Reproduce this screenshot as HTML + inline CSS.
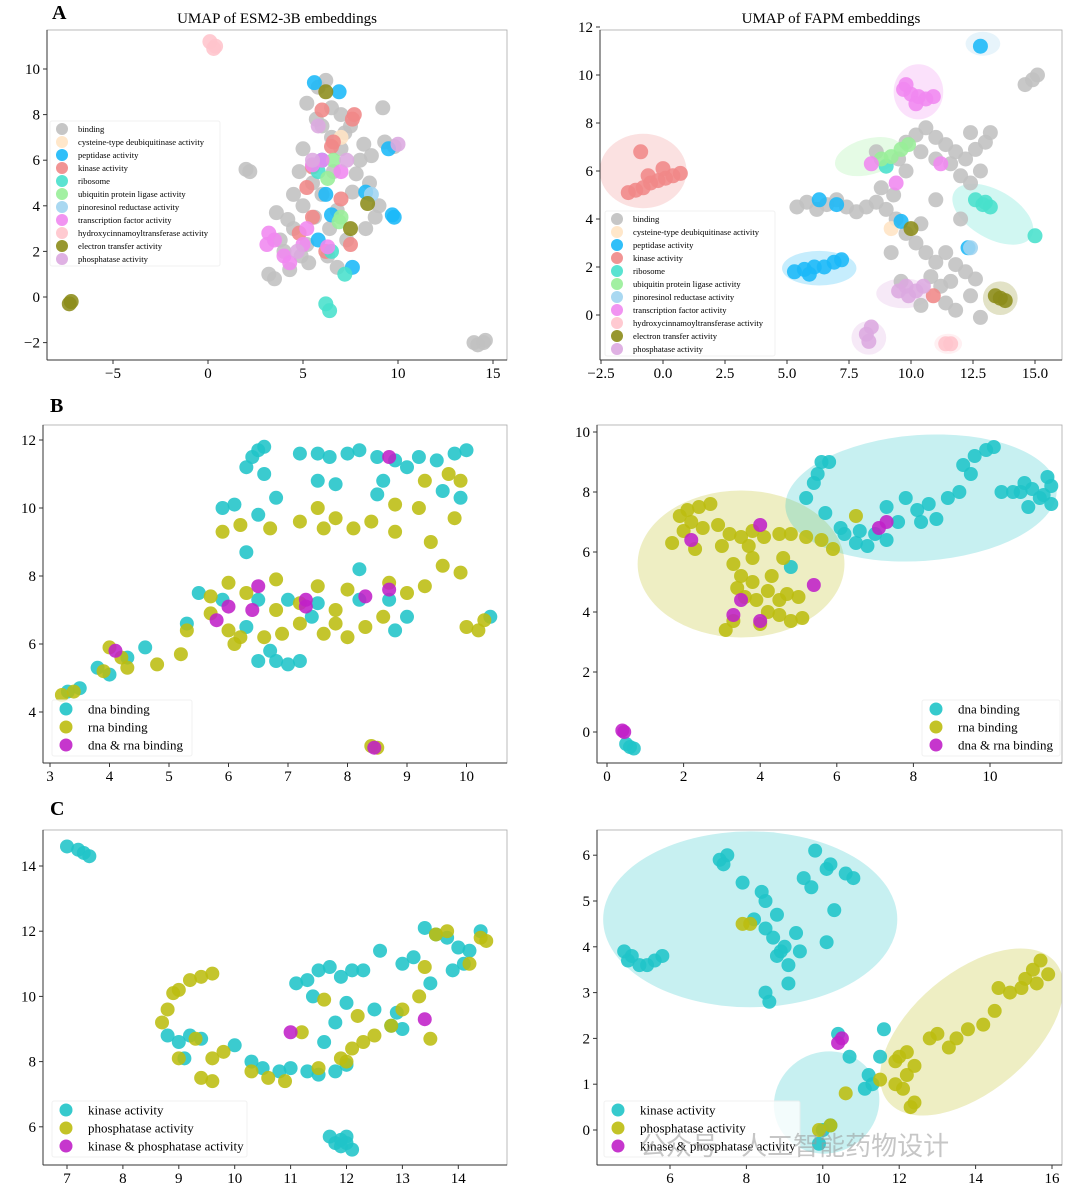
<!DOCTYPE html>
<html><head><meta charset="utf-8">
<style>
html,body{margin:0;padding:0;background:#fff;}
svg{display:block;font-family:"Liberation Serif","Noto Serif CJK SC",serif;}
</style></head>
<body>
<svg id="fig" width="1080" height="1189" viewBox="0 0 1080 1189" xmlns="http://www.w3.org/2000/svg">
<rect width="1080" height="1189" fill="#fff"/>
<text x="52" y="19" font-size="20" font-weight="bold">A</text>
<text x="50" y="412" font-size="20" font-weight="bold">B</text>
<text x="50" y="815" font-size="20" font-weight="bold">C</text>
<text x="277" y="23" font-size="15" text-anchor="middle">UMAP of ESM2-3B embeddings</text>
<text x="831" y="23" font-size="15" text-anchor="middle">UMAP of FAPM embeddings</text>
</svg>
<script>
const NS='http://www.w3.org/2000/svg';
const svg=document.getElementById('fig');
function mk(tag,attrs,parent){const e=document.createElementNS(NS,tag);for(const k in attrs)e.setAttribute(k,attrs[k]);(parent||svg).appendChild(e);return e;}

const colA=['#c0c0c0','#ffe4c4','#1ab8f8','#f08888','#48e0cc','#98ee98','#a0d4f0','#f088f0','#ffc4cc','#8c8c1a','#dca8e0'];
const namesA=['binding','cysteine-type deubiquitinase activity','peptidase activity','kinase activity','ribosome','ubiquitin protein ligase activity','pinoresinol reductase activity','transcription factor activity','hydroxycinnamoyltransferase activity','electron transfer activity','phosphatase activity'];
const colB=['#20c4c8','#bcbd10','#c020c8'];
const namesB=['dna binding','rna binding','dna & rna binding'];
const namesC=['kinase activity','phosphatase activity','kinase & phosphatase activity'];

/* ---- Panel A left data ---- */
const aL_xticks=[-5,0,5,10,15];
const aL_yticks=[-2,0,2,4,6,8,10];
const aL_series=[
 [[2,5.6],[2.2,5.5],[3.2,1],[3.5,0.8],[4,2],[4.5,3],[5,4],[5.5,5],[6,6],[6.5,7],[7,8],[5.2,8.5],[5.8,9.2],[6.2,9.5],[7.5,7.5],[8,6],[8.5,5],[9,4],[8.3,3],[7.3,2.5],[6.3,1.8],[5.3,1.5],[4.3,1.2],[3.8,2.5],[4.8,5.5],[5,6.5],[6,7.5],[7,6.5],[8.2,6.7],[9.8,6.6],[9.3,6.8],[9.2,8.3],[6.6,5.5],[5.6,3.5],[6.8,3.8],[7.6,4.6],[4.5,4.5],[3.6,3.7],[6,4.5],[5.2,2.3],[6.8,1.3],[6.5,8.3],[7.8,5.4],[8.8,3.5],[4.2,3.4],[5.7,7.8],[7.2,7.2],[6.4,3],[4.9,1.8],[8.6,6.2],[14,-2],[14.5,-2],[14.2,-2.1],[14.6,-1.9]],
 [[7,7]],
 [[5.6,9.4],[6.9,9],[9.8,3.5],[9.7,3.6],[5.8,2.5],[7.6,1.3],[6,6],[9.5,6.5],[8.3,4.6],[6.5,3.6],[6.2,4.5]],
 [[7.7,8],[7.6,7.8],[6.5,6.6],[6.6,6.8],[5.2,4.8],[5.5,3.5],[6.2,2],[7,4.3],[5.5,5.7],[7.5,2.3],[4.8,2.8],[6,8.2]],
 [[6.2,-0.3],[6.4,-0.6],[7.2,1],[6.5,2],[5.8,5.5]],
 [[6.3,5.2],[7,3.5],[6.6,6],[6.9,3.3]],
 [[8.6,4.5]],
 [[3.2,2.8],[3.1,2.3],[4,1.8],[5,2.3],[5.5,5.8],[6,6],[7,5.5],[5.2,3],[6.3,2.2],[4.3,1.5],[3.5,2.5]],
 [[0.1,11.2],[0.4,11],[0.3,10.9]],
 [[-7.3,-0.3],[-7.2,-0.2],[6.2,9],[8.4,4.1],[7.5,3]],
 [[10,6.7],[5.5,6],[4.7,2],[5.8,7.5],[7.3,6]]
];
/* ---- Panel A right data ---- */
const aR_xticks=[-2.5,0,2.5,5,7.5,10,12.5,15];
const aR_xlabels=['−2.5','0.0','2.5','5.0','7.5','10.0','12.5','15.0'];
const aR_yticks=[0,2,4,6,8,10,12];
const aR_series=[
 [[5.4,4.5],[5.8,4.7],[6.2,4.4],[6.6,4.6],[7,4.8],[7.4,4.5],[7.8,4.3],[8.2,4.5],[8.6,4.7],[9,4.4],[9.3,5],[8.8,5.3],[9.5,6.5],[9.8,7.2],[10.2,7.5],[10.6,7.8],[11,7.4],[11.4,7.1],[11.8,6.8],[12.2,6.5],[12.6,6.9],[13,7.2],[12.4,7.6],[11.6,6.3],[12,5.8],[12.4,5.5],[12.8,6],[11,6.5],[10.4,6.8],[9.8,6],[9.4,4],[9.8,3.4],[10.2,3],[10.6,2.6],[11,2.2],[11.4,2.6],[11.8,2.1],[12.2,1.8],[11.6,1.4],[11.2,1.2],[10.8,1.6],[12.4,0.8],[12.6,1.5],[11.8,0.2],[12.8,-0.1],[10.4,3.8],[11,4.8],[12,4],[9.2,2.6],[9.6,1.4],[10.4,0.4],[11.4,0.5],[8.6,6.8],[13.2,7.6],[14.6,9.6],[14.9,9.8],[15.1,10]],
 [[9.2,3.6]],
 [[5.3,1.8],[5.7,1.9],[6.1,2],[6.5,2],[6.9,2.2],[7.2,2.3],[5.9,1.7],[12.8,11.2],[6.3,4.8],[7.0,4.6],[12.3,2.8],[9.6,3.9]],
 [[-1.1,5.2],[-0.8,5.3],[-0.5,5.5],[-0.2,5.6],[0.1,5.7],[0.4,5.8],[0.7,5.9],[-0.9,6.8],[-0.6,5.8],[0,6.1],[-1.4,5.1],[10.9,0.8]],
 [[12.6,4.8],[12.9,4.6],[13.2,4.5],[13,4.7],[15,3.3],[9,6.2]],
 [[8.8,6.5],[9.2,6.6],[9.6,6.9],[9.9,7.1]],
 [[12.4,2.8]],
 [[9.7,9.4],[10,9.2],[10.3,9.1],[10.6,9],[10.9,9.1],[10.2,8.8],[9.8,9.6],[11.2,6.3],[9.4,5.5],[8.4,6.3]],
 [[11.4,-1.2],[11.6,-1.2]],
 [[13.4,0.8],[13.6,0.7],[13.8,0.6],[10,3.6]],
 [[8.2,-0.8],[8.4,-0.5],[8.3,-1.1],[9.5,1],[9.8,1.2],[10.2,1],[10.5,1.2],[9.9,0.8]]
];
const aR_ellipses=[[-0.8,6,1.75,1.55,0,3],[6.3,1.95,1.5,0.72,0,2],[10.3,9.3,1,1.15,0,7],[12.9,11.3,0.7,0.5,0,6],[8.3,6.6,1.4,0.75,-15,5],[13.3,4.2,1.8,1,30,4],[9.7,0.9,1.1,0.62,0,10],[8.3,-0.95,0.7,0.7,0,10],[13.6,0.7,0.7,0.7,0,9],[11.5,-1.2,0.56,0.42,0,8]];

/* ---- Panel B ---- */
const bL_xticks=[3,4,5,6,7,8,9,10];
const bL_yticks=[4,6,8,10,12];
const bL_series=[
 [[6.4,11.5],[6.5,11.7],[6.6,11.8],[6.3,11.2],[6.6,11],[7.2,11.6],[7.5,11.6],[7.7,11.5],[8,11.6],[8.2,11.7],[8.5,11.5],[8.8,11.4],[9.2,11.5],[9.5,11.4],[9.8,11.6],[10,11.7],[9,11.2],[8.6,10.8],[9.6,10.5],[7.5,10.8],[5.9,10],[6.1,10.1],[6.8,10.3],[7.8,10.7],[8.5,10.4],[9.9,10.3],[6.5,9.8],[8.2,8.2],[6.3,8.7],[5.5,7.5],[6.5,7.3],[7,7.3],[7.5,7.2],[8.2,7.3],[8.7,7.3],[9,6.8],[8.8,6.4],[6.5,5.5],[6.8,5.5],[7,5.4],[7.2,5.5],[6.7,5.8],[5.3,6.6],[4.3,5.6],[4.6,5.9],[3.8,5.3],[4,5.1],[3.5,4.7],[3.3,4.6],[10.4,6.8],[6.3,6.5],[7.4,6.8],[5.9,7.3]],
 [[3.2,4.5],[3.4,4.6],[3.9,5.2],[4.2,5.6],[4,5.9],[4.3,5.3],[4.8,5.4],[5.2,5.7],[5.3,6.4],[5.7,6.9],[6,6.4],[6.2,6.2],[6.1,6],[6.9,6.3],[7.2,6.6],[7.6,6.3],[8,6.2],[8.3,6.5],[8.6,6.8],[9,7.5],[9.3,7.7],[9.6,8.3],[9.9,8.1],[9.4,9],[9.8,9.7],[9.2,10],[9.7,11],[9.9,10.8],[10,6.5],[10.2,6.4],[10.3,6.7],[8.8,10.1],[8.4,9.6],[8.1,9.4],[7.6,9.4],[7.2,9.6],[7.5,10],[7.8,9.7],[6.2,9.5],[6.7,9.4],[5.9,9.3],[6.8,7.9],[7.2,7.2],[7.8,7],[8.7,7.8],[6,7.8],[5.7,7.4],[6.8,7],[8.4,3],[8.5,2.95],[9.3,10.8],[8.8,9.3],[7.5,7.7],[6.3,7.5],[8,7.6],[6.6,6.2],[7.8,6.6]],
 [[4.1,5.8],[8.7,11.5],[6.5,7.7],[7.3,7.3],[7.3,7.1],[8.3,7.4],[8.7,7.6],[6,7.1],[6.4,7],[5.8,6.7],[8.45,2.95]]
];
const bR_xticks=[0,2,4,6,8,10];
const bR_yticks=[0,2,4,6,8,10];
const bR_series=[
 [[5.6,9],[5.8,9],[5.5,8.6],[5.4,8.3],[5.2,7.8],[5.7,7.3],[6.2,6.6],[6.5,6.3],[6.8,6.2],[7.3,6.4],[7.6,7],[7.3,7.5],[7.8,7.8],[8.1,7.4],[8.4,7.6],[8.9,7.8],[9.2,8],[9.5,8.6],[9.6,9.2],[9.9,9.4],[10.1,9.5],[9.3,8.9],[10.3,8],[10.6,8],[10.8,8],[10.9,8.3],[11.1,8.1],[11.3,7.8],[11.4,7.9],[11.6,7.6],[11.6,8.2],[11.5,8.5],[11,7.5],[6.1,6.8],[6.6,6.7],[8.6,7.1],[8.2,7],[0.6,-0.5],[0.7,-0.55],[0.5,-0.4],[4.8,5.5],[7,6.6]],
 [[1.9,7.2],[2.1,7.4],[2.4,7.5],[2.7,7.6],[2.2,7],[2,6.7],[2.5,6.8],[2.9,6.9],[3.2,6.6],[3.5,6.5],[3.8,6.7],[4.1,6.5],[4.5,6.6],[4.8,6.6],[5.2,6.5],[5.6,6.4],[5.9,6.1],[3.7,6.2],[3.8,5.8],[3.3,5.6],[3.5,5.2],[3.8,5],[3.4,4.8],[3.6,4.5],[3.9,4.4],[4.2,4.7],[4.5,4.4],[4.7,4.6],[4.3,5.2],[4.5,3.9],[4.8,3.7],[5.1,3.8],[3.3,3.7],[3.1,3.4],[4,3.6],[4.2,4],[2.3,6.1],[1.7,6.3],[3,6.2],[4.6,5.8],[6.5,7.2],[5,4.5]],
 [[0.4,0.05],[0.45,0],[2.2,6.4],[4,6.9],[3.5,4.4],[3.3,3.9],[4,3.7],[5.4,4.9],[7.1,6.8],[7.3,7]]
];
const bR_ellipses=[[3.5,5.6,2.7,2.45,0,1],[8.2,7.8,3.55,2.1,-4,0]];

/* ---- Panel C ---- */
const cL_xticks=[7,8,9,10,11,12,13,14];
const cL_yticks=[6,8,10,12,14];
const cL_series=[
 [[7,14.6],[7.2,14.5],[7.3,14.4],[7.4,14.3],[11.8,5.5],[11.9,5.6],[12,5.7],[11.9,5.4],[12,5.5],[11.7,5.7],[12.1,5.3],[8.8,8.8],[9,8.6],[9.2,8.8],[9.4,8.7],[9.1,8.1],[10,8.5],[10.3,8],[10.5,7.8],[10.8,7.7],[11,7.8],[11.3,7.7],[11.5,7.6],[11.8,7.7],[12,7.9],[11.1,10.4],[11.3,10.5],[11.5,10.8],[11.7,10.9],[11.9,10.6],[12.1,10.8],[12.3,10.8],[11.4,10],[12,9.8],[12.5,9.6],[11.8,9.2],[12.6,11.4],[13,11],[13.2,11.2],[13.4,12.1],[13.6,11.9],[13.8,11.8],[14,11.5],[14.2,11.4],[14.4,12],[13.9,10.8],[14.1,11],[12.8,9.1],[13,9],[13.5,10.4],[11.6,8.6],[12.9,9.5]],
 [[8.7,9.2],[8.8,9.6],[8.9,10.1],[9,10.2],[9.4,10.6],[9.6,10.7],[9.2,10.5],[9.3,8.7],[9.6,8.1],[9.8,8.3],[9.4,7.5],[9.6,7.4],[9,8.1],[10.6,7.5],[10.3,7.7],[10.9,7.4],[11.2,8.9],[11.6,9.9],[11.9,8.1],[12.1,8.4],[12.3,8.6],[12.5,8.8],[12.8,9.1],[13,9.6],[13.3,10],[13.4,10.9],[13.6,11.9],[13.8,12],[14.4,11.8],[14.5,11.7],[11.5,7.8],[12.2,9.4],[13.5,8.7],[14.2,11],[12,8]],
 [[11,8.9],[13.4,9.3]]
];
const cR_xticks=[6,8,10,12,14,16];
const cR_yticks=[0,1,2,3,4,5,6];
const cR_series=[
 [[4.9,3.7],[5,3.8],[5.2,3.6],[5.4,3.6],[5.6,3.7],[5.8,3.8],[4.8,3.9],[7.3,5.9],[7.5,6],[7.4,5.8],[7.9,5.4],[8.5,5],[8.2,4.6],[8.5,4.4],[8.7,4.2],[9,4],[9.3,4.3],[9.5,5.5],[9.8,6.1],[10.1,5.7],[10.2,5.8],[10.6,5.6],[10.8,5.5],[9.7,5.3],[8.8,4.7],[9.1,3.6],[8.5,3],[8.6,2.8],[9.1,3.2],[8.9,3.9],[9.4,3.9],[10.1,4.1],[8.8,3.8],[8.4,5.2],[10.3,4.8],[9.9,-0.3],[10,0],[10.2,0.1],[10.7,1.6],[11.2,1.2],[11.3,1],[11.5,1.6],[11.6,2.2],[10.4,2.1],[11.1,0.9]],
 [[7.9,4.5],[8.1,4.5],[10.2,0.1],[9.9,0],[11.9,1],[12,1.6],[12.2,1.2],[12.4,1.4],[12.3,0.5],[12.4,0.6],[12.2,1.7],[12.8,2],[13,2.1],[13.5,2],[13.8,2.2],[14.2,2.3],[14.5,2.6],[14.9,3],[15.2,3.1],[15.5,3.5],[15.7,3.7],[15.9,3.4],[15.3,3.3],[14.6,3.1],[11.5,1.1],[11.9,1.5],[13.3,1.8],[10.6,0.8],[12.1,0.9],[15.6,3.2]],
 [[10.5,2],[10.4,1.9]]
];
const cR_ellipses=[[8.1,4.6,3.85,1.92,0,0],[10.1,0.6,1.4,1.1,-30,0],[13.9,2.14,2.85,1.3,-40,1]];

function panel(o){
  const g=mk('g',{});
  
  
  const sx=v=>o.px0+(v-o.x0)*o.kx, sy=v=>o.py0-(v-o.y0)*o.ky;
  const clip='clip-'+o.name;
  const cp=mk('clipPath',{id:clip},g);mk('rect',{x:o.L,y:o.T,width:o.R-o.L,height:o.B-o.T},cp);
  const pg=mk('g',{'clip-path':'url(#'+clip+')'},g);
  (o.ellipses||[]).forEach(e=>{
    const el=mk('ellipse',{cx:sx(e[0]),cy:sy(e[1]),rx:e[2]*o.kx,ry:e[3]*o.ky,fill:o.colors[e[5]],opacity:0.25,transform:`rotate(${e[4]} ${sx(e[0])} ${sy(e[1])})`},pg);
    
    
  });
  o.series.forEach((s,i)=>{s.forEach(p=>{
    const c=mk('circle',{cx:sx(p[0]),cy:sy(p[1]),r:o.r,fill:o.colors[i],opacity:0.88},pg);
    
    
  });});
  const fr=mk('rect',{x:o.L,y:o.T,width:o.R-o.L,height:o.B-o.T,fill:'none',stroke:'#aaa','stroke-width':0.8},g);
  
  
  mk('line',{x1:o.L,y1:o.T,x2:o.L,y2:o.B,stroke:'#333','stroke-width':1},g);
  mk('line',{x1:o.L,y1:o.B,x2:o.R,y2:o.B,stroke:'#333','stroke-width':1},g);
  o.xt.forEach((v,i)=>{const x=sx(v);mk('line',{x1:x,y1:o.B,x2:x,y2:o.B+4,stroke:'#333'},g);
    const t=mk('text',{x:x,y:o.B+18,'font-size':15,'text-anchor':'middle'},g);t.textContent=o.xl?o.xl[i]:(v<0?'−'+(-v):String(v));
    
    });
  o.yt.forEach(v=>{const y=sy(v);mk('line',{x1:o.L-4,y1:y,x2:o.L,y2:y,stroke:'#333'},g);
    const t=mk('text',{x:o.L-7,y:y+5,'font-size':15,'text-anchor':'end'},g);t.textContent=v<0?'−'+(-v):String(v);
    
    });
  const lg=o.leg;
  const lb=mk('rect',{x:lg.x,y:lg.y,width:lg.w,height:lg.h,fill:'#fff',opacity:0.8,stroke:'#eee',rx:2},g);
  
  
  o.names.forEach((n,i)=>{const y=lg.y+lg.pad+i*lg.dy;
    mk('circle',{cx:lg.x+lg.mx,cy:y,r:lg.r,fill:o.colors[i],opacity:0.9},g);
    const t=mk('text',{x:lg.x+lg.tx,y:y+lg.fs*0.35,'font-size':lg.fs},g);t.textContent=n;
    
    });
}
const legS={fs:8.6,dy:13,pad:8,mx:12,tx:28,r:6,h:145};
const legB={fs:13,dy:18,pad:9,mx:14,tx:36,r:6.5,h:56};
panel({name:'panel-a-esm',L:47,R:507,T:30,B:360,px0:208,x0:0,kx:19,py0:297,y0:0,ky:22.8,xt:aL_xticks,yt:aL_yticks,series:aL_series,colors:colA,names:namesA,r:7.5,leg:Object.assign({x:50,y:121,w:170},legS)});
panel({name:'panel-a-fapm',L:600,R:1062,T:30,B:360,px0:663,x0:0,kx:24.8,py0:315,y0:0,ky:24,xt:aR_xticks,xl:aR_xlabels,yt:aR_yticks,series:aR_series,colors:colA,names:namesA,r:7.5,ellipses:aR_ellipses,leg:Object.assign({x:605,y:211,w:170},legS)});
panel({name:'panel-b-esm',L:43,R:507,T:425,B:763,px0:50,x0:3,kx:59.5,py0:440,y0:12,ky:34,xt:bL_xticks,yt:bL_yticks,series:bL_series,colors:colB,names:namesB,r:7,leg:Object.assign({x:52,y:700,w:140},legB)});
panel({name:'panel-b-fapm',L:597,R:1062,T:425,B:763,px0:607,x0:0,kx:38.3,py0:732,y0:0,ky:30,xt:bR_xticks,yt:bR_yticks,series:bR_series,colors:colB,names:namesB,r:7,ellipses:bR_ellipses,leg:Object.assign({x:922,y:700,w:138},legB)});
panel({name:'panel-c-esm',L:43,R:507,T:830,B:1165,px0:67,x0:7,kx:55.9,py0:866,y0:14,ky:32.6,xt:cL_xticks,yt:cL_yticks,series:cL_series,colors:colB,names:namesC,r:7,leg:Object.assign({x:52,y:1101,w:195},legB)});
panel({name:'panel-c-fapm',L:597,R:1062,T:830,B:1165,px0:670,x0:6,kx:38.2,py0:1130,y0:0,ky:45.8,xt:cR_xticks,yt:cR_yticks,series:cR_series,colors:colB,names:namesC,r:7,ellipses:cR_ellipses,leg:Object.assign({x:604,y:1101,w:196},legB)});
const wm=mk('text',{x:640,y:1155,'font-size':26,fill:'#999',opacity:0.55,'font-family':'"Liberation Sans","Noto Sans CJK SC",sans-serif'});
wm.textContent='公众号 · 人工智能药物设计';


</script>
</body></html>
